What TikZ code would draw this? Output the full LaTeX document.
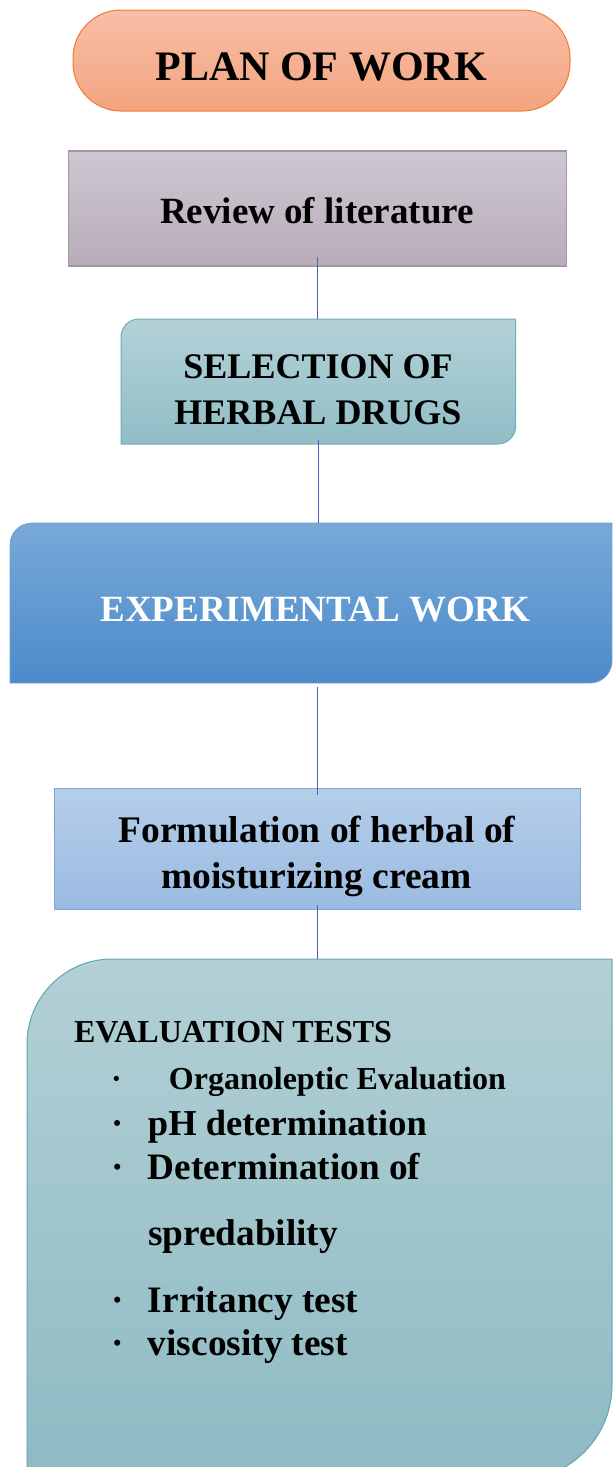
\documentclass[tikz,border=0pt]{standalone}
\usepackage{fontspec}
\setmainfont{Liberation Serif}
\definecolor{planTop}{HTML}{F7BEA7}
\definecolor{planBot}{HTML}{F4A47F}
\definecolor{planLine}{HTML}{ED7D31}
\definecolor{revTop}{HTML}{CDC7D1}
\definecolor{revBot}{HTML}{B8ACB9}
\definecolor{revLine}{HTML}{A396A7}
\definecolor{selTop}{HTML}{B3D2D7}
\definecolor{selBot}{HTML}{91BDC6}
\definecolor{selLine}{HTML}{6AAEBB}
\definecolor{expTop}{HTML}{78A9D8}
\definecolor{expBot}{HTML}{4C8BCA}
\definecolor{expLine}{HTML}{6E9FD3}
\definecolor{formTop}{HTML}{B5CEE9}
\definecolor{formBot}{HTML}{9BBBE2}
\definecolor{formLine}{HTML}{7CA7DA}
\definecolor{evalTop}{HTML}{B2D0D5}
\definecolor{evalBot}{HTML}{8EBAC3}
\definecolor{evalLine}{HTML}{5FA7B5}
\definecolor{linkBlue}{HTML}{4A5FBF}
\newcommand\cornerbox[7][]{%
  \path[#1] (#2,{#3+#6}) .. controls (#2,{#3+0.448*#6}) and ({#2+0.448*#6},#3) .. ({#2+#6},#3)
    -- (#4,#3) -- (#4,{#5-#7}) .. controls (#4,{#5-0.448*#7}) and ({#4-0.448*#7},#5) .. ({#4-#7},#5)
    -- (#2,#5) -- cycle;}
\begin{document}
\begin{tikzpicture}[x=1pt,y=-1pt,
  frame/.style={inner sep=0pt,outer sep=0pt,draw=none},
  txt/.style={inner sep=0pt,outer sep=0pt,font={\bfseries\fontsize{#1}{#1}\selectfont}},
  conn/.style={draw=linkBlue,line width=1pt}]
\useasboundingbox (0,0) rectangle (613,1467);
% boxes
\node[frame,draw=planLine,line width=1pt,top color=planTop,bottom color=planBot,
  rounded corners=48pt,minimum width=497pt,minimum height=101pt] (plan) at (321.5,60.5) {};
\node[frame,draw=revLine,line width=1.2pt,top color=revTop,bottom color=revBot,
  minimum width=498pt,minimum height=115pt] (review) at (317.6,208.5) {};
\node[frame,minimum width=394.7pt,minimum height=125pt] (sel) at (318.4,381.5) {};
\cornerbox[draw=selLine,line width=1pt,top color=selTop,bottom color=selBot]{121}{319}{515.7}{444}{18}{18}
\node[frame,minimum width=602pt,minimum height=160pt] (exp) at (311,603) {};
\cornerbox[draw=expLine,line width=0.8pt,top color=expTop,bottom color=expBot]{10}{523}{612}{683}{22}{22}
\node[frame,draw=formLine,line width=1pt,top color=formTop,bottom color=formBot,
  minimum width=526pt,minimum height=121pt] (form) at (317,848.5) {};
\node[frame,minimum width=585pt,minimum height=521pt] (eval) at (319.5,1219.5) {};
\cornerbox[draw=evalLine,line width=1pt,top color=evalTop,bottom color=evalBot]{27}{959}{612}{1480}{85}{95}
% connectors
\draw[conn] ([yshift=9pt]review.south) -- (review.south |- sel.north);
\draw[conn] ([yshift=4pt]sel.south) -- (sel.south |- exp.north);
\draw[conn] ([yshift=-4pt]form.north |- exp.south) -- ([yshift=-7pt]form.north);
\draw[conn] ([yshift=4pt]form.south) -- (form.south |- eval.north);
% texts
\node[txt=42,anchor=base] (tplan) at (321,80) {PLAN OF WORK};
\node[txt=37,anchor=base] (trev) at (317,223) {Review of literature};
\node[txt=36,anchor=base] (tsel1) at (318,378) {SELECTION OF};
\node[txt=36,anchor=base] (tsel2) at (318,424) {HERBAL DRUGS};
\node[txt=37,anchor=base,text=white] (texp) at (315.5,621.5) {EXPERIMENTAL WORK};
\node[txt=37.5,anchor=base] (tform1) at (317,842) {Formulation of herbal of};
\node[txt=37.5,anchor=base] (tform2) at (316.5,888) {moisturizing cream};
\node[txt=32,anchor=base west] (teval) at (74,1042) {EVALUATION TESTS};
\node[txt=32,anchor=base west] (ti1) at (111,1089) {\makebox[58pt][l]{\textperiodcentered}Organoleptic Evaluation};
\node[txt=36.5,anchor=base west] (ti2) at (111,1135) {\makebox[37pt][l]{\textperiodcentered}pH determination};
\node[txt=37.3,anchor=base west] (ti3) at (111,1179) {\makebox[37pt][l]{\textperiodcentered}Determination of};
\node[txt=37.3,anchor=base west] (ti3b) at (148,1245) {spredability};
\node[txt=37.3,anchor=base west] (ti4) at (111,1312) {\makebox[37pt][l]{\textperiodcentered}Irritancy test};
\node[txt=37.3,anchor=base west] (ti5) at (111,1355) {\makebox[37pt][l]{\textperiodcentered}viscosity test};
\end{tikzpicture}
\end{document}
